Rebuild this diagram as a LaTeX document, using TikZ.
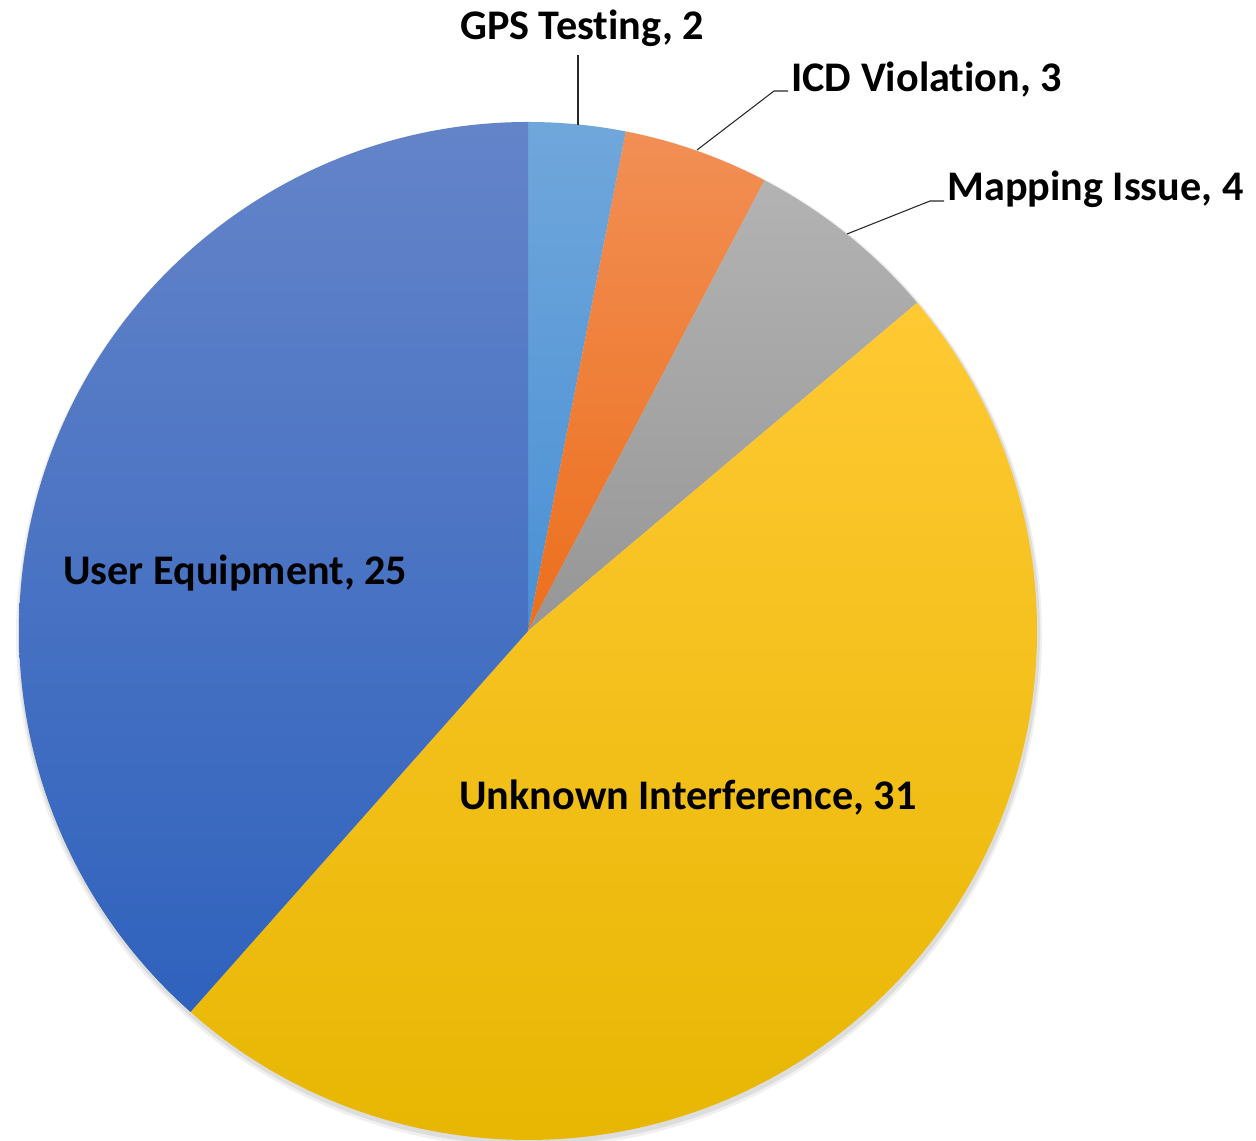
\documentclass[tikz,border=0pt]{standalone}
\usepackage{fontspec}
\setmainfont{Carlito}[Ligatures=NoCommon]
\usepackage{tikz}
\usetikzlibrary{positioning}
\usepackage{xcolor}
\definecolor{ueTop}{HTML}{6484C9}
\definecolor{ueBot}{HTML}{2F62BD}
\definecolor{gpsTop}{HTML}{70A7DB}
\definecolor{gpsBot}{HTML}{4A90D5}
\definecolor{icdTop}{HTML}{F28F55}
\definecolor{icdBot}{HTML}{EC6F1C}
\definecolor{mapTop}{HTML}{B3B3B3}
\definecolor{mapBot}{HTML}{969696}
\definecolor{uiTop}{HTML}{FFC933}
\definecolor{uiBot}{HTML}{E6B600}
\tikzset{%
    % slice labels
    lbl/.style    = {font=\fontsize{24}{28}\selectfont\bfseries, inner sep=0pt},
    % leader lines to the labels
    leader/.style = {draw=black!85, line width=0.6pt},
}

\begin{document}
\begin{tikzpicture}[x=0.2mm,y=0.2mm]
	\useasboundingbox (0,0) rectangle (1256,1140);
	\coordinate (O) at (528,509);
	\fill[black,opacity=0.08] (529,506) circle(511);
	\fill[black,opacity=0.06] (529,505) circle(513);
	\shade[top color=gpsTop,bottom color=gpsBot] (O) -- ++(90:509) arc[start angle=90,end angle=78.92,radius=509] -- cycle;
	\shade[top color=icdTop,bottom color=icdBot] (O) -- ++(78.92:509) arc[start angle=78.92,end angle=62.31,radius=509] -- cycle;
	\shade[top color=mapTop,bottom color=mapBot] (O) -- ++(62.31:509) arc[start angle=62.31,end angle=40.15,radius=509] -- cycle;
	\shade[top color=uiTop,bottom color=uiBot] (O) -- ++(40.15:509) arc[start angle=40.15,end angle=-131.54,radius=509] -- cycle;
	\shade[top color=ueTop,bottom color=ueBot] (O) -- ++(90:509) arc[start angle=90,end angle=228.46,radius=509] -- cycle;

	\node[lbl,anchor=base] (gps) at (582,1100) {GPS Testing, 2};
	\node[lbl,anchor=base west] (icd) at (791,1048) {ICD Violation, 3};
	\node[lbl,anchor=base west] (map) at (947,939) {Mapping Issue, 4};
	\node[lbl,anchor=base west] (ue) at (63,555) {User Equipment, 25};
	\node[lbl,anchor=base west] (ui) at (459,330) {Unknown Interference, 31};

	\coordinate (gpstip) at (578,1015);
	\coordinate (gpsend) at (578,1085);
	\coordinate (icdtip) at (697,990);
	\coordinate (icdbend) at (774,1049);
	\coordinate (icdend) at (788,1049);
	\coordinate (maptip) at (847,906);
	\coordinate (mapbend) at (930,939);
	\coordinate (mapend) at (944,939);
	\draw[leader] (gpstip) -- (gpsend);
	\draw[leader] (icdtip) -- (icdbend) -- (icdend);
	\draw[leader] (maptip) -- (mapbend) -- (mapend);
\end{tikzpicture}
\end{document}
